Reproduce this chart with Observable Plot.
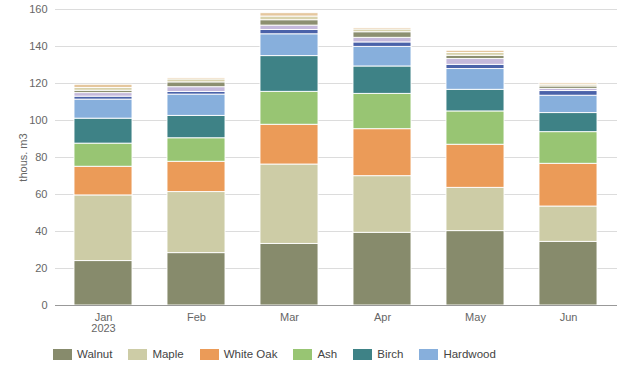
<!DOCTYPE html>
<html>
<head>
<meta charset="utf-8">
<script src="https://cdn.jsdelivr.net/npm/d3@7"></script>
<script src="https://cdn.jsdelivr.net/npm/@observablehq/plot@0.6"></script>
<style>
  body { margin: 0; background: #fff; font-family: "Liberation Sans", Arial, sans-serif; }
  #legend { display: flex; align-items: center; padding-left: 53px; margin-top: 6px; font-size: 11.5px; color: #444; }
  .item { display: flex; align-items: center; margin-right: 16px; }
  .sw { width: 19px; height: 11px; margin-right: 5px; }
</style>
</head>
<body>
<div id="chart"></div>
<div id="legend"></div>
<script>
const months = ["Jan", "Feb", "Mar", "Apr", "May", "Jun"];
const monthLabels = ["Jan\n2023", "Feb", "Mar", "Apr", "May", "Jun"];
const series = ["Walnut", "Maple", "White Oak", "Ash", "Birch", "Hardwood", "Other 1", "Other 2", "Other 3", "Other 4", "Other 5"];
const legendSeries = ["Walnut", "Maple", "White Oak", "Ash", "Birch", "Hardwood"];
const colors = ["#878b6c", "#cdcca6", "#eb9b58", "#98c573", "#3e8286", "#87afdc", "#4a62a9", "#c5b9db", "#8c8f70", "#d8d2ac", "#e5c79e"];

const walnut   = [24.0, 28.3, 33.3, 39.3, 40.2, 34.4];
const maple    = [35.5, 33.0, 42.9, 30.6, 23.4, 19.1];
const whiteOak = [15.5, 16.4, 21.5, 25.4, 23.3, 23.1];
const ash      = [12.5, 12.7, 17.8, 19.1, 18.0, 17.1];
const birch    = [13.5, 12.1, 19.3, 14.8, 11.7, 10.3];
const hardwood = [10.3, 11.5, 11.8, 10.6, 11.2, 9.4];
const other1   = [1.6, 1.4, 2.3, 2.4, 2.3, 2.5];
const other2   = [1.9, 2.6, 2.4, 2.5, 3.1, 1.2];
const other3   = [1.3, 2.6, 2.9, 3.0, 1.8, 1.3];
const other4   = [1.5, 1.6, 2.0, 1.5, 1.5, 1.0];
const other5   = [1.7, 0.8, 1.8, 0.8, 1.2, 0.8];

const values = [walnut, maple, whiteOak, ash, birch, hardwood, other1, other2, other3, other4, other5];
const yTicks = [0, 20, 40, 60, 80, 100, 120, 140, 160];

const data = [];
series.forEach((s, i) => months.forEach((m, j) => data.push({ series: s, month: m, value: values[i][j] })));

const chart = Plot.plot({
  width: 624,
  height: 342,
  marginTop: 9,
  marginBottom: 37,
  marginLeft: 55,
  marginRight: 7,
  style: { fontFamily: "Liberation Sans, Arial, sans-serif", fontSize: "11px", color: "#666" },
  x: { domain: months, paddingInner: 0.373, paddingOuter: 0.18, label: null, tickSize: 0, tickPadding: 8,
       tickFormat: (d) => monthLabels[months.indexOf(d)] },
  y: { domain: [0, 160], ticks: yTicks, label: "thous. m3", labelAnchor: "center", labelArrow: "none",
       labelOffset: 36, tickSize: 0, tickPadding: 8 },
  color: { domain: series, range: colors },
  marks: [
    Plot.ruleY(yTicks.filter(d => d > 0), { stroke: "#dcdcdc", strokeWidth: 1 }),
    Plot.barY(data, { x: "month", y: "value", fill: "series", stroke: "white", strokeWidth: 0.9 }),
    Plot.ruleY([0], { stroke: "#999", strokeWidth: 1.2 })
  ]
});
document.getElementById("chart").appendChild(chart);

const legend = document.getElementById("legend");
legendSeries.forEach(s => {
  const it = document.createElement("div");
  it.className = "item";
  const sw = document.createElement("div");
  sw.className = "sw";
  sw.style.background = colors[series.indexOf(s)];
  const t = document.createElement("span");
  t.textContent = s;
  it.appendChild(sw); it.appendChild(t);
  legend.appendChild(it);
});
</script>
</body>
</html>
